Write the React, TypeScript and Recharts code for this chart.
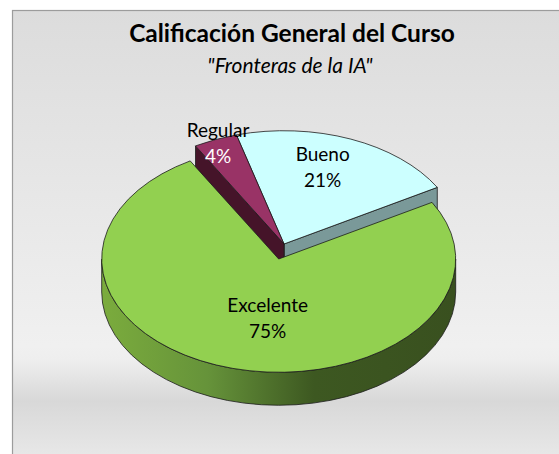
import React from "react";
import { PieChart, Pie } from "recharts";

const CATEGORIES = ["Bueno", "Regular", "Excelente"];
const VALUES = [21, 4, 75];
const TITLE = "Calificación General del Curso";
const SUBTITLE = '"Fronteras de la IA"';

const data = CATEGORIES.map((name, i) => ({ name, value: VALUES[i] }));

const W = 559, H = 454;
const CX = 278.7, CY = 259, RX = 177;
const TILT = 0.64;
const DEPTH = 33;
const FONT = "Lato, 'Open Sans', sans-serif";

const OFFSET: Record<string, [number, number]> = {
  Bueno: [5.3, -15],
  Regular: [5.3, -15],
  Excelente: [0, 0],
};
const TOP: Record<string, string> = { Bueno: "#CCFFFF", Regular: "#993366", Excelente: "#92D050" };
const WALL: Record<string, string> = { Bueno: "#7A9999", Regular: "#451429", Excelente: "url(#greenWall)" };
const LABEL_POS: Record<string, [number, number, string]> = {
  Bueno: [322.7, 153, "#000"],
  Regular: [218, 129, "#000"],
  Excelente: [267.7, 304, "#000"],
};
const VALUE_POS: Record<string, [number, number, string]> = {
  Bueno: [322.7, 179, "#000"],
  Regular: [218, 155, "#fff"],
  Excelente: [267.7, 330, "#000"],
};

const rad = (d: number) => (d * Math.PI) / 180;

function SliceShape(props: any) {
  const { cx, cy, outerRadius, startAngle, endAngle, name } = props;
  const key = name ?? props.payload?.name;
  const [ox, oy] = OFFSET[key];
  const x0 = cx + ox, y0 = cy + oy;
  const rx = outerRadius, ry = outerRadius * TILT;
  const pt = (t: number): [number, number] => [x0 + rx * Math.cos(rad(t)), y0 - ry * Math.sin(rad(t))];
  const [sx, sy] = pt(startAngle);
  const [ex, ey] = pt(endAngle);
  const large = endAngle - startAngle > 180 ? 1 : 0;
  const stroke = { stroke: "#1c1c1c", strokeWidth: 0.8, strokeLinejoin: "round" as const };
  const radial = (px: number, py: number) =>
    `M${x0},${y0}L${px},${py}L${px},${py + DEPTH}L${x0},${y0 + DEPTH}Z`;
  const walls: string[] = [];
  if (Math.cos(rad(startAngle)) > 0) walls.push(radial(sx, sy));
  if (Math.cos(rad(endAngle)) < 0) walls.push(radial(ex, ey));
  if (startAngle < 360 && endAngle > 180) {
    const a = Math.max(startAngle, 180), b = Math.min(endAngle, 360);
    const [ax, ay] = pt(a);
    const [bx, by] = pt(b);
    walls.push(
      `M${ax},${ay}A${rx},${ry} 0 0 0 ${bx},${by}L${bx},${by + DEPTH}A${rx},${ry} 0 0 1 ${ax},${ay + DEPTH}Z`
    );
  }
  return (
    <g>
      {walls.map((d, i) => (
        <path key={i} d={d} fill={WALL[key]} {...stroke} />
      ))}
      <path
        d={`M${x0},${y0}L${sx},${sy}A${rx},${ry} 0 ${large} 0 ${ex},${ey}Z`}
        fill={TOP[key]}
        {...stroke}
      />
    </g>
  );
}

function SliceLabel(props: any) {
  const { name, percent } = props;
  const [lx, ly, lc] = LABEL_POS[name];
  const [vx, vy, vc] = VALUE_POS[name];
  const style = { fontFamily: FONT, fontSize: 19 };
  return (
    <g>
      <text x={lx} y={ly} textAnchor="middle" dominantBaseline="central" fill={lc} style={style}>
        {name}
      </text>
      <text x={vx} y={vy} textAnchor="middle" dominantBaseline="central" fill={vc} style={style}>
        {`${Math.round(percent * 100)}%`}
      </text>
    </g>
  );
}

export default function App() {
  return (
    <div style={{ position: "absolute", left: 0, top: 0, width: W, height: H }}>
      <PieChart width={W} height={H} margin={{ top: 0, right: 0, bottom: 0, left: 0 }}>
        <defs>
          <linearGradient id="bg" x1="0" y1="0" x2="0" y2="1">
            <stop offset="0" stopColor="#dcdcdc" />
            <stop offset="0.74" stopColor="#f0f0f0" />
            <stop offset="0.77" stopColor="#eeeeee" />
            <stop offset="0.86" stopColor="#d8d8d8" />
            <stop offset="1" stopColor="#eaeaea" />
          </linearGradient>
          <linearGradient id="greenWall" gradientUnits="userSpaceOnUse" x1="101" y1="0" x2="456" y2="0">
            <stop offset="0" stopColor="#7BAC3D" />
            <stop offset="0.3" stopColor="#66933A" />
            <stop offset="0.6" stopColor="#3D5821" />
            <stop offset="1" stopColor="#39501F" />
          </linearGradient>
        </defs>
        <rect x={12.5} y={10.5} width={W} height={H} fill="url(#bg)" stroke="#9c9c9c" strokeWidth={1.2} />
        <text x={292} y={32.5} textAnchor="middle" dominantBaseline="central" fill="#000"
          style={{ fontFamily: FONT, fontSize: 24.5, fontWeight: 700 }}>
          {TITLE}
        </text>
        <text x={290} y={64.5} textAnchor="middle" dominantBaseline="central" fill="#000"
          style={{ fontFamily: FONT, fontSize: 21, fontStyle: "italic" }}>
          {SUBTITLE}
        </text>
        <Pie
          data={data}
          dataKey="value"
          nameKey="name"
          cx={CX}
          cy={CY}
          innerRadius={0}
          outerRadius={RX}
          startAngle={30}
          endAngle={390}
          paddingAngle={0}
          stroke="none"
          shape={SliceShape}
          label={SliceLabel}
          labelLine={false}
          isAnimationActive={false}
        />
      </PieChart>
    </div>
  );
}
